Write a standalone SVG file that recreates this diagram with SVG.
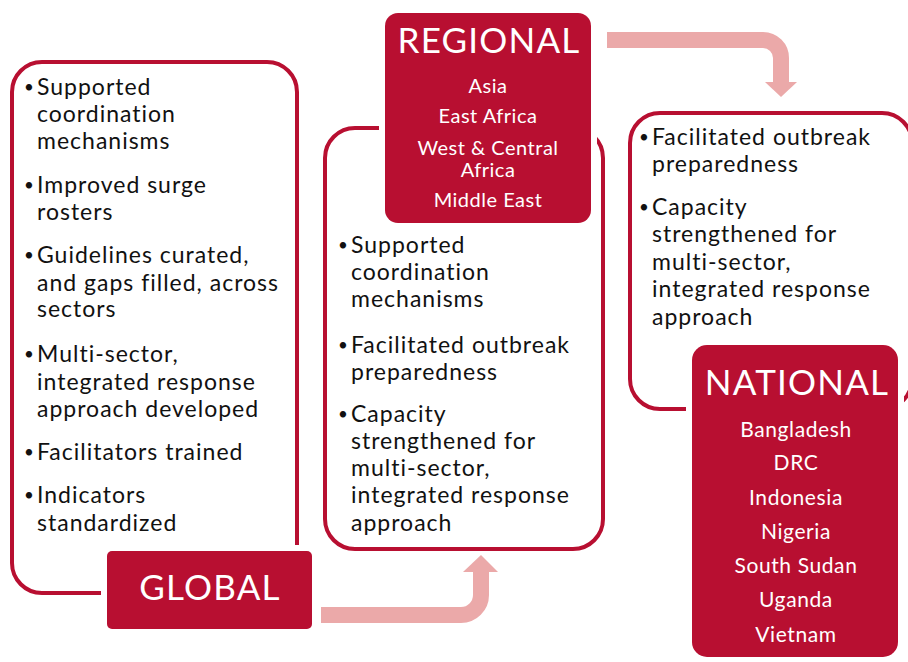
<svg xmlns="http://www.w3.org/2000/svg" width="908" height="662" viewBox="0 0 908 662">
<style>
.outline{fill:#fff;stroke:#B80F31;stroke-width:4}
.head{fill:#B80F31;stroke:#fff;stroke-width:12;paint-order:stroke}
.arrow{fill:none;stroke:#EBA9A9;stroke-width:16}
.ahead{fill:#EBA9A9}
.t{font-family:Lato,"Open Sans",sans-serif;font-size:23px;letter-spacing:1px;fill:#111}
.b{font-size:17px}
.h{font-family:Lato,"Open Sans",sans-serif;font-size:35px;letter-spacing:1.2px;fill:#fff;text-anchor:middle}
.l{font-family:Lato,"Open Sans",sans-serif;font-size:20px;letter-spacing:0.5px;fill:#fff;text-anchor:middle}
.n{font-family:Lato,"Open Sans",sans-serif;font-size:21px;letter-spacing:0.6px;fill:#fff;text-anchor:middle}
</style>
<rect width="908" height="662" fill="#fff"/>
<g id="connectors">
<path class="arrow" d="M321,615 H461 A20,20 0 0 0 481,595 V571"/>
<polygon class="ahead" points="463,572 498,572 481,555"/>
<path class="arrow" d="M607,40 H763 A18,18 0 0 1 781,58 V83"/>
<polygon class="ahead" points="765,82 797,82 781,97"/>
</g>
<g id="global">
<rect class="outline" x="12" y="62" width="285" height="531" rx="30"/>
<text class="t"><tspan class="b" x="24" y="93">•</tspan><tspan x="37" y="95">Supported</tspan><tspan x="37" y="122">coordination</tspan><tspan x="37" y="149">mechanisms</tspan>
<tspan class="b" x="24" y="191">•</tspan><tspan x="37" y="193">Improved surge</tspan><tspan x="37" y="220">rosters</tspan>
<tspan class="b" x="24" y="261">•</tspan><tspan x="37" y="263">Guidelines curated,</tspan><tspan x="37" y="291">and gaps filled, across</tspan><tspan x="37" y="317">sectors</tspan>
<tspan class="b" x="24" y="360">•</tspan><tspan x="37" y="362">Multi-sector,</tspan><tspan x="37" y="390">integrated response</tspan><tspan x="37" y="417">approach developed</tspan>
<tspan class="b" x="24" y="458">•</tspan><tspan x="37" y="460">Facilitators trained</tspan>
<tspan class="b" x="24" y="501">•</tspan><tspan x="37" y="503">Indicators</tspan><tspan x="37" y="531">standardized</tspan></text>
<rect class="head" x="107" y="551" width="205" height="78" rx="5"/>
<text class="h" x="210" y="600">GLOBAL</text>
</g>
<g id="regional">
<rect class="outline" x="325" y="128" width="278" height="421" rx="30"/>
<text class="t"><tspan class="b" x="338" y="251">•</tspan><tspan x="351" y="253">Supported</tspan><tspan x="351" y="280">coordination</tspan><tspan x="351" y="307">mechanisms</tspan>
<tspan class="b" x="338" y="351">•</tspan><tspan x="351" y="353">Facilitated outbreak</tspan><tspan x="351" y="380">preparedness</tspan>
<tspan class="b" x="338" y="420">•</tspan><tspan x="351" y="422">Capacity</tspan><tspan x="351" y="449">strengthened for</tspan><tspan x="351" y="476">multi-sector,</tspan><tspan x="351" y="503">integrated response</tspan><tspan x="351" y="531">approach</tspan></text>
<rect class="head" x="385" y="13" width="206" height="210" rx="13"/>
<text class="h" x="489" y="53">REGIONAL</text>
<text class="l"><tspan x="488" y="93">Asia</tspan><tspan x="488" y="123">East Africa</tspan><tspan x="488" y="155">West &amp; Central</tspan><tspan x="488" y="177">Africa</tspan><tspan x="488" y="207">Middle East</tspan></text>
</g>
<g id="national">
<rect class="outline" x="630" y="113" width="282" height="296" rx="30"/>
<text class="t"><tspan class="b" x="639" y="143">•</tspan><tspan x="652" y="145">Facilitated outbreak</tspan><tspan x="652" y="172">preparedness</tspan>
<tspan class="b" x="639" y="213">•</tspan><tspan x="652" y="215">Capacity</tspan><tspan x="652" y="242">strengthened for</tspan><tspan x="652" y="270">multi-sector,</tspan><tspan x="652" y="297">integrated response</tspan><tspan x="652" y="325">approach</tspan></text>
<rect class="head" x="692" y="345" width="206" height="312" rx="15"/>
<text class="h" x="797" y="395">NATIONAL</text>
<text class="n"><tspan x="796" y="437">Bangladesh</tspan><tspan x="796" y="470">DRC</tspan><tspan x="796" y="505">Indonesia</tspan><tspan x="796" y="539">Nigeria</tspan><tspan x="796" y="573">South Sudan</tspan><tspan x="796" y="607">Uganda</tspan><tspan x="796" y="642">Vietnam</tspan></text>
</g>
</svg>
